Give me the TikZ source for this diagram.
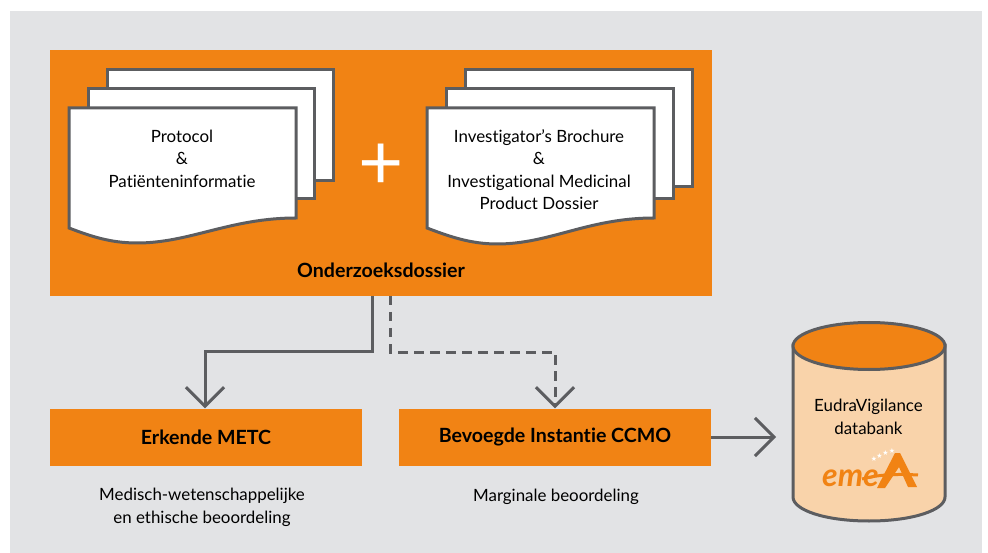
\documentclass[tikz,border=0pt]{standalone}
\usepackage{fontspec}
\setmainfont{Lato}[Ligatures=NoCommon]
\newfontfamily\symfont{DejaVu Sans}
\usetikzlibrary{arrows.meta}
\definecolor{org}{HTML}{F18314}
\definecolor{bgg}{HTML}{E2E3E5}
\definecolor{lin}{HTML}{5C5D60}
\definecolor{peach}{HTML}{F9D3AA}
\tikzset{
 x=1pt,y=-1pt,
 page/.style={draw=lin,line width=3pt,fill=white,miter limit=10},
 box/.style={fill=org,draw=none,minimum height=57pt,inner sep=0pt,font=\fontsize{19.6}{24}\selectfont\bfseries},
 lbl/.style={font=\fontsize{16.9}{22.5}\selectfont,align=center,text=black,inner sep=0pt},
 conn/.style={draw=lin,line width=3pt},
 tip/.style={-{Straight Barb[length=19pt,width=38pt,line width=3pt]}},
 star/.style={text=white,font=\symfont\fontsize{7}{7}\selectfont,inner sep=0pt},
}
\begin{document}
\begin{tikzpicture}
\useasboundingbox (0,0) rectangle (988,553);
\fill[bgg] (10,11) rectangle (982,553);
\node[fill=org,minimum width=662pt,minimum height=246pt,inner sep=0pt] (dossier) at (381,173) {};
% left stack
\draw[page] (107,70) rectangle (333,181);
\draw[page] (88,89) rectangle (314,199);
\draw[page] (69,108) -- (296,108) -- (296,218) .. controls (230,218) and (190,243) .. (137,243) .. controls (110,243) and (90,236) .. (69,228) -- cycle;
\node[lbl] (left) at (182,158.5) {Protocol\\\&\\Patiënteninformatie};
% right stack
\draw[page] (465,70) rectangle (692,187);
\draw[page] (446,89) rectangle (673,199);
\draw[page] (427,108) -- (654,108) -- (654,218) .. controls (588,218) and (550,244) .. (497,244) .. controls (470,244) and (448,236) .. (427,228) -- cycle;
\node[lbl] (right) at (539,169.5) {Investigator’s Brochure\\\&\\Investigational Medicinal\\Product Dossier};
\node[font=\fontsize{78}{78}\selectfont,text=white,inner sep=0pt] (plus) at (381,167) {+};
\node[font=\fontsize{19.6}{24}\selectfont\bfseries,inner sep=0pt] (title) at (381,270) {Onderzoeksdossier};
\node[box,minimum width=312pt] (metc) at (206,437) {Erkende METC};
\node[box,minimum width=312pt] (ccmo) at (555,437) {Bevoegde Instantie CCMO};
\node[lbl] (metct) at (202,507.5) {Medisch-wetenschappelijke\\ en ethische beoordeling};
\node[lbl] (ccmot) at (556,497) {Marginale beoordeling};
% cylinder
\draw[conn,fill=peach] (793,345) -- (793,497) .. controls (793,510) and (825,521) .. (869,521) .. controls (913,521) and (945,510) .. (945,497) -- (945,345) -- cycle;
\draw[conn,fill=org] (869,346) ellipse [x radius=76pt,y radius=23.5pt];
\node[lbl,font=\fontsize{16.9}{23}\selectfont] (db) at (868.5,416.5) {EudraVigilance\\databank};
% logo
\node[font=\bfseries\itshape\fontsize{32}{32}\selectfont,text=org,inner sep=0pt,anchor=base west] (logo) at (822,486) {eme};
\fill[org] (877,488) -- (895,453) -- (900,453) -- (917,487) -- (908,487) -- (899,467) -- (885,488) -- cycle;
\draw[org,line width=3pt] (862,479) .. controls (880,474) and (900,474) .. (918,475);
\foreach \i/\xx/\yy in {a/874/459,b/879.5/456,c/885.5/452.5,d/892/451}
  \node[star] (s\i) at (\xx,\yy) {★};
% connectors
\coordinate (j1) at (372,351);
\coordinate (j2) at (205,351);
\coordinate (d0) at (390,296);
\coordinate (d1) at (390,352);
\coordinate (d2) at (555,352);
\coordinate (s0) at (372,296);
\draw[conn,tip] (s0) -- (j1) -- (j2) -- (j2 |- metc.north);
\draw[conn,tip,dash pattern=on 9.5pt off 6.5pt] (d0) -- (d1) -- (d2) -- (d2 |- ccmo.north);
\coordinate (t) at (776,436);
\draw[conn,tip] (ccmo.east) -- (t |- ccmo.east);
\end{tikzpicture}
\end{document}
